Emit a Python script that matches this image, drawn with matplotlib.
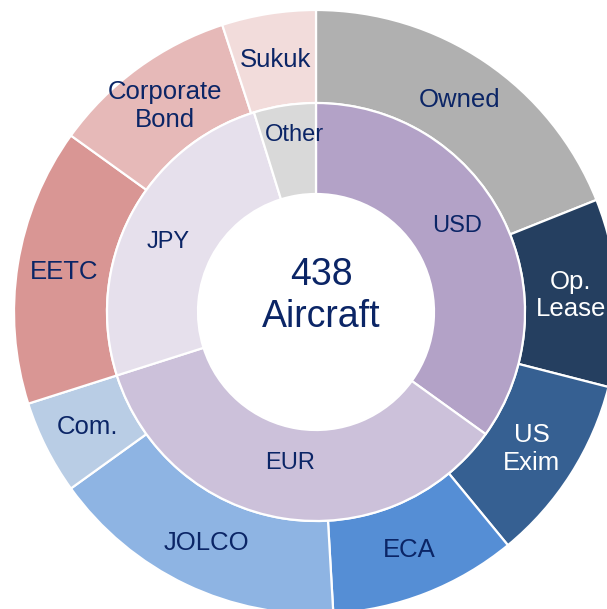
import numpy as np
import matplotlib.pyplot as plt

plt.rcParams['font.family'] = ['Liberation Sans', 'DejaVu Sans']

# Outer ring: financing source
outer_labels = ['Owned', 'Op.\nLease', 'US\nExim', 'ECA', 'JOLCO', 'Com.', 'EETC',
                'Corporate\nBond', 'Sukuk']
outer_values = [83, 44, 44, 44, 70, 22, 65, 44, 22]
outer_colors = ['#B0B0B0', '#253F60', '#366092', '#558ED5', '#8EB4E3', '#B9CDE5',
                '#D99694', '#E6B9B8', '#F2DCDB']

# Inner ring: currency
inner_labels = ['USD', 'EUR', 'JPY', 'Other']
inner_values = [153, 154, 110, 21]
inner_colors = ['#B3A2C7', '#CCC1DA', '#E6E0EC', '#D9D9D9']

total = 438
navy = '#0B2566'
outer_text = [navy, 'white', 'white'] + [navy] * 6

fig = plt.figure(figsize=(6.07, 6.09), dpi=100)
ax = fig.add_axes([0, 0, 1, 1])

cx, cy = 316, 297
r_out, r_mid, r_in = 302, 209, 118
edge = dict(edgecolor='white', linewidth=1.6)

w_out, _ = ax.pie(outer_values, colors=outer_colors, startangle=90, counterclock=False,
                  radius=r_out, center=(cx, cy), wedgeprops=dict(width=r_out - r_mid, **edge))
w_in, _ = ax.pie(inner_values, colors=inner_colors, startangle=90, counterclock=False,
                 radius=r_mid, center=(cx, cy), wedgeprops=dict(width=r_mid - r_in, **edge))


def put_labels(wedges, labels, colors, r, size, nudge=None):
    nudge = nudge or [(0, 0)] * len(labels)
    for w, lab, c, (dx, dy) in zip(wedges, labels, colors, nudge):
        a = np.deg2rad((w.theta1 + w.theta2) / 2)
        ax.text(cx + r * np.cos(a) + dx, cy + r * np.sin(a) + dy, lab, ha='center',
                va='center', color=c, fontsize=size, linespacing=1.2)


put_labels(w_out, outer_labels, outer_text, (r_out + r_mid) / 2, 18.5)
put_labels(w_in, inner_labels, [navy] * 4, 165, 17,
           nudge=[(-6, 11), (0, 12), (-2, -6), (3, 14)])

ax.text(cx + 5, cy + 37, str(total), ha='center', va='center', color=navy, fontsize=27)
ax.text(cx + 5, cy - 5, 'Aircraft', ha='center', va='center', color=navy, fontsize=27)

ax.set_xlim(0, 607)
ax.set_ylim(0, 609)
ax.set_aspect('equal')
ax.axis('off')

fig.savefig('out.png', dpi=100)
